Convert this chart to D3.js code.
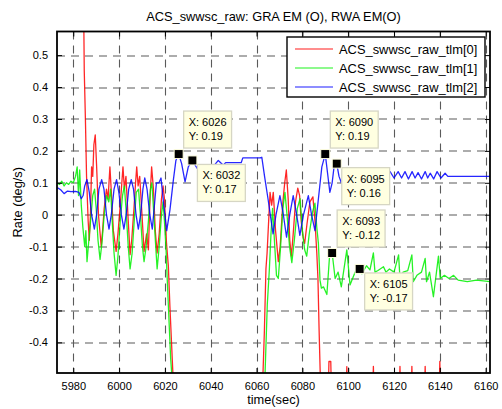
<!DOCTYPE html>
<html>
<head>
<meta charset="utf-8">
<title>ACS_swwsc_raw</title>
<script src="https://d3js.org/d3.v7.min.js"></script>
<style>
    body {
        margin: 0;
        background: #fff;
        font-family: Arial, "Liberation Sans", sans-serif;
    }
    svg text {
        font-family: Arial, "Liberation Sans", sans-serif;
        fill: #000;
    }
</style>
</head>
<body>
<div id="chart"></div>
<script>
    // Series as [time (sec), rate (deg/s)]
    const seriesNames = ['ACS_swwsc_raw_tlm[0]', 'ACS_swwsc_raw_tlm[1]', 'ACS_swwsc_raw_tlm[2]'];

    const tlm0 = [
        [5984.2, 0.9], [5984.8, 0.45], [5985.3, 0.3], [5985.8, 0.12], [5986.5, -0.02], [5987, -0.08],
        [5987.5, 0.0], [5988, 0.15], [5988.5, 0.12], [5989, 0.22], [5989.6, 0.25], [5990.2, 0.15],
        [5991, 0.0], [5992.2, -0.1], [5992.8, -0.05], [5993.5, 0.02], [5994.5, 0.08], [5995.2, 0.05],
        [5996, 0.15], [5996.7, 0.06], [5997.5, -0.05], [5998.7, -0.115], [5999.5, -0.06], [6000.5, 0.03],
        [6001.2, 0.1], [6001.7, 0.15], [6002.3, 0.08], [6003, 0.12], [6004, -0.02], [6004.8, -0.125],
        [6005.5, -0.08], [6006.5, 0.02], [6007.2, 0.1], [6007.7, 0.15], [6008.3, 0.09], [6009, 0.12],
        [6010, 0.0], [6010.9, -0.115], [6012, -0.06], [6012.8, -0.11], [6013.5, 0.05], [6014.2, 0.15],
        [6015, 0.08], [6015.8, -0.05], [6016.6, -0.12], [6017.5, -0.06], [6018.5, 0.05], [6019.2, 0.09],
        [6019.8, 0.05], [6020.7, -0.09], [6021.5, -0.16], [6022.2, -0.29], [6023.5, -0.5], [6024.5, -0.9],
        [6062.5, -0.9], [6062.8, -0.5], [6063.4, -0.37], [6064.1, -0.17], [6064.6, -0.12], [6065.9, 0.07],
        [6066.6, 0.03], [6067.3, 0.07], [6068.3, -0.05], [6069.5, -0.147], [6070.3, -0.1], [6071.5, 0.04],
        [6072.3, 0.1], [6073, 0.14], [6073.8, 0.05], [6074.5, -0.08], [6075.2, -0.13], [6076, -0.06],
        [6077, 0.04], [6078, 0.083], [6078.8, 0.06], [6079.5, -0.02], [6080.3, -0.07], [6081, -0.09],
        [6082, -0.03], [6083.3, 0.04], [6084.6, 0.056], [6085.5, -0.02], [6086.3, -0.12], [6086.8, -0.2],
        [6087.3, -0.36], [6087.8, -0.5], [6088.5, -0.6],
        [6091.2, -0.6], [6091.6, -0.46], [6092.4, -0.46], [6092.8, -0.6],
        [6099.0, -0.6], [6099.4, -0.476], [6099.8, -0.6],
        [6110.6, -0.6], [6111.0, -0.475], [6111.4, -0.6],
        [6122.2, -0.6], [6122.6, -0.475], [6123.0, -0.6],
        [6127.4, -0.6], [6127.8, -0.475], [6128.2, -0.6],
        [6133.2, -0.6], [6133.6, -0.475], [6134.0, -0.6],
        [6139.6, -0.6], [6140.0, -0.46], [6140.4, -0.6],
        [6162, -0.6]
    ];

    const tlm1 = [
        [5973, 0.10], [5974, 0.095], [5975, 0.105], [5976, 0.09], [5977, 0.1], [5978, 0.095],
        [5979, 0.105], [5980, 0.1], [5981, 0.12], [5981.7, 0.15], [5982.3, 0.06], [5982.8, 0.14],
        [5983.5, 0.03], [5984.2, -0.04], [5985, -0.1], [5985.5, -0.05], [5986, -0.147], [5986.8, -0.08],
        [5987.8, 0.0], [5988.5, 0.06], [5989.3, 0.08], [5990, 0.02], [5990.8, -0.08], [5991.7, -0.14],
        [5992.5, -0.09], [5993.5, 0.0], [5994.5, 0.06], [5995.5, 0.04], [5996.3, 0.08], [5997, -0.02],
        [5997.8, -0.12], [5998.7, -0.19], [5999.5, -0.13], [6000.5, -0.02], [6001.5, 0.06], [6002.3, 0.09],
        [6003, 0.02], [6004, -0.1], [6004.8, -0.17], [6005.7, -0.12], [6006.7, -0.01], [6007.5, 0.07],
        [6008.5, 0.08], [6009.3, 0.0], [6010.2, -0.1], [6010.9, -0.147], [6011.8, -0.1], [6012.8, -0.02],
        [6013.7, 0.08], [6014.3, 0.1], [6015, 0.02], [6016, -0.1], [6016.6, -0.17], [6017.5, -0.1],
        [6018.5, 0.0], [6019.2, 0.04], [6019.8, -0.02], [6020.5, -0.11], [6021, -0.2], [6021.6, -0.3],
        [6022.5, -0.45], [6023, -0.5], [6024, -0.9],
        [6063.3, -0.9], [6063.7, -0.5], [6064.7, -0.28], [6065.6, -0.17], [6066.3, -0.06], [6067, 0.02],
        [6067.8, -0.08], [6068.7, -0.19], [6069.5, -0.2], [6070.5, -0.1], [6071.5, 0.02], [6072.4, 0.07],
        [6073.3, 0.0], [6074.4, -0.1], [6075.4, -0.15], [6076.5, -0.08], [6077.8, 0.02], [6079, 0.05],
        [6080, -0.05], [6081, -0.11], [6081.9, -0.13], [6083, -0.06], [6084.5, 0.01], [6085.5, 0.036],
        [6086.3, -0.04], [6087, -0.09], [6087.7, -0.205], [6088.3, -0.23], [6089.2, -0.226], [6090.7, -0.25],
        [6092, -0.116], [6093, -0.12], [6094.3, -0.2], [6095.6, -0.18], [6097, -0.226], [6099.4, -0.11],
        [6100.8, -0.22], [6103, -0.18], [6105, -0.17], [6106, -0.185], [6108, -0.16], [6109.5, -0.173],
        [6111, -0.12], [6111.7, -0.18], [6113, -0.175], [6115.4, -0.163], [6116.5, -0.18], [6118, -0.17],
        [6120, -0.18], [6122, -0.126], [6122.6, -0.2], [6124, -0.18], [6126, -0.175], [6127.8, -0.126],
        [6128.4, -0.21], [6130, -0.19], [6132, -0.18], [6133.6, -0.137], [6134.2, -0.21], [6135.5, -0.18],
        [6137.2, -0.257], [6139.4, -0.13], [6140.2, -0.2], [6142, -0.19], [6144, -0.2], [6146, -0.19],
        [6148, -0.205], [6152, -0.21], [6156, -0.205], [6162, -0.21]
    ];

    const tlm2 = [
        [5973, 0.085], [5974.5, 0.078], [5976, 0.066], [5977.5, 0.074], [5979, 0.072], [5981, 0.073],
        [5982.5, 0.07], [5983.5, 0.05], [5984.3, 0.06], [5985, 0.09], [5986, 0.11], [5987, 0.07],
        [5988, 0.0], [5989.2, -0.045], [5990.2, 0.0], [5991.2, 0.08], [5992.4, 0.11], [5993.4, 0.08],
        [5994.5, 0.0], [5995.6, -0.045], [5996.6, 0.0], [5997.8, 0.08], [5998.9, 0.11], [5999.9, 0.07],
        [6001, 0.0], [6002.1, -0.045], [6003.1, 0.0], [6004.2, 0.08], [6005.3, 0.11], [6006.3, 0.08],
        [6007.4, 0.0], [6008.4, -0.045], [6009.4, 0.0], [6010.4, 0.08], [6011.2, 0.115], [6012.2, 0.08],
        [6013.4, 0.0], [6014.5, -0.045], [6015.5, 0.036], [6016.3, 0.1], [6017.4, 0.1], [6018.3, 0.115],
        [6019.5, 0.03], [6020.8, -0.05], [6022.2, 0.015], [6023.7, 0.109], [6024.8, 0.17], [6026, 0.19],
        [6027.3, 0.16], [6028.8, 0.103], [6030.2, 0.15], [6032, 0.17], [6033.2, 0.155], [6034.6, 0.14],
        [6036.8, 0.155], [6039, 0.145], [6041, 0.15], [6043.3, 0.17], [6045.5, 0.155], [6046.5, 0.163],
        [6053.3, 0.163], [6054, 0.178], [6061.5, 0.178], [6062.3, 0.18], [6063.5, 0.12], [6065, 0.05],
        [6066, 0.0], [6067.2, -0.06], [6068.5, 0.0], [6070.2, 0.06], [6071.5, 0.01], [6073.1, -0.07],
        [6074.5, 0.0], [6076, 0.06], [6077.5, 0.0], [6078.9, -0.065], [6080.5, 0.0], [6082.6, 0.06],
        [6084, 0.0], [6085.5, -0.05], [6087, 0.05], [6088.5, 0.15], [6090, 0.19], [6091, 0.13],
        [6092, 0.07], [6093, 0.1], [6094, 0.16], [6094.6, 0.17], [6095, 0.16], [6096, 0.12],
        [6097, 0.1], [6098, 0.12], [6099.5, 0.135], [6101, 0.115], [6102.5, 0.13], [6104, 0.115],
        [6105.5, 0.13], [6107, 0.115], [6108.5, 0.13], [6110, 0.12], [6111.5, 0.135], [6113, 0.115],
        [6114.5, 0.13], [6116, 0.115], [6118.3, 0.135], [6120, 0.115], [6121.8, 0.135], [6123.3, 0.115],
        [6124.8, 0.135], [6126.3, 0.112], [6127.9, 0.135], [6129.2, 0.115], [6130.5, 0.132], [6132, 0.112],
        [6133.6, 0.135], [6134.7, 0.115], [6135.8, 0.13], [6137.3, 0.112], [6138.8, 0.135], [6140.5, 0.115],
        [6142.3, 0.13], [6143.5, 0.12], [6162, 0.12]
    ];

    const seriesColors = ['#ff0000', '#00f000', '#0000ff'];

    const xTicks = [5980, 6000, 6020, 6040, 6060, 6080, 6100, 6120, 6140, 6160];
    const yTicks = [-0.4, -0.3, -0.2, -0.1, 0, 0.1, 0.2, 0.3, 0.4, 0.5];

    // data cursors: series value at a time, box shown above or below the marker
    const dataTips = [
        {t: 6026, v: 0.19, place: 'above'},
        {t: 6032, v: 0.17, place: 'below'},
        {t: 6090, v: 0.19, place: 'above'},
        {t: 6095, v: 0.16, place: 'below'},
        {t: 6093, v: -0.12, place: 'above'},
        {t: 6105, v: -0.17, place: 'below'}
    ];

    const titleText = 'ACS_swwsc_raw: GRA EM (O), RWA EM(O)';
    const xLabel = 'time(sec)';
    const yLabel = 'Rate (deg/s)';

    // layout
    const width = 502, height = 409;
    const margin = {top: 31.5, right: 12, bottom: 36, left: 57};
    const plotW = width - margin.left - margin.right;
    const plotH = height - margin.top - margin.bottom;

    const svg = d3.select('#chart').append('svg')
        .attr('width', width)
        .attr('height', height);

    const x = d3.scaleLinear().domain([5972.9, 6161.9]).range([0, plotW]);
    const y = d3.scaleLinear().domain([-0.496, 0.574]).range([plotH, 0]);

    svg.append('defs').append('clipPath').attr('id', 'plot-clip')
        .append('rect').attr('width', plotW).attr('height', plotH);

    const g = svg.append('g').attr('transform', `translate(${margin.left},${margin.top})`);

    // grid
    const grid = g.append('g').attr('class', 'grid')
        .attr('stroke', '#5a5a5a').attr('stroke-width', 1.1).attr('stroke-dasharray', '8,6');
    grid.selectAll('.gx').data(xTicks).enter().append('line')
        .attr('x1', d => Math.round(x(d)) + 0.5).attr('x2', d => Math.round(x(d)) + 0.5)
        .attr('y1', 0).attr('y2', plotH);
    grid.selectAll('.gy').data(yTicks).enter().append('line')
        .attr('y1', d => Math.round(y(d)) + 0.5).attr('y2', d => Math.round(y(d)) + 0.5)
        .attr('x1', 0).attr('x2', plotW);

    // lines
    const line = d3.line().x(d => x(d[0])).y(d => y(d[1]));
    g.append('g').attr('clip-path', 'url(#plot-clip)')
        .selectAll('path')
        .data([tlm0, tlm1, tlm2])
        .enter().append('path')
        .attr('d', line)
        .attr('fill', 'none')
        .attr('stroke', (d, i) => seriesColors[i])
        .attr('stroke-width', 1.3)
        .attr('stroke-opacity', 0.85)
        .attr('stroke-linejoin', 'round');

    // axes box with inward ticks on all four sides
    const tickLen = 5;
    const axisFont = 11;
    const xAxisB = d3.axisBottom(x).tickValues(xTicks).tickSizeInner(-tickLen).tickSizeOuter(0)
        .tickPadding(9).tickFormat(d3.format('d'));
    const xAxisT = d3.axisTop(x).tickValues(xTicks).tickSizeInner(-tickLen).tickSizeOuter(0).tickFormat('');
    const yFmt = d => d === 0 ? '0' : d.toFixed(1);
    const yAxisL = d3.axisLeft(y).tickValues(yTicks).tickSizeInner(-tickLen).tickSizeOuter(0)
        .tickPadding(9).tickFormat(yFmt);
    const yAxisR = d3.axisRight(y).tickValues(yTicks).tickSizeInner(-tickLen).tickSizeOuter(0).tickFormat('');

    function styleAxis(sel) {
        sel.select('.domain').remove();
        sel.selectAll('.tick line').attr('stroke', '#000').attr('stroke-width', 1);
        sel.selectAll('.tick text').attr('font-size', axisFont)
            .attr('font-family', 'Arial, "Liberation Sans", sans-serif').attr('fill', '#000');
    }
    g.append('g').attr('transform', `translate(0,${plotH})`).call(xAxisB).call(styleAxis);
    g.append('g').call(xAxisT).call(styleAxis);
    g.append('g').call(yAxisL).call(styleAxis);
    g.append('g').attr('transform', `translate(${plotW},0)`).call(yAxisR).call(styleAxis);

    g.append('rect')
        .attr('x', 0).attr('y', 0).attr('width', plotW).attr('height', plotH)
        .attr('fill', 'none').attr('stroke', '#000').attr('stroke-width', 1.8);

    // titles
    svg.append('text')
        .attr('x', margin.left + plotW / 2).attr('y', 20.5)
        .attr('text-anchor', 'middle').attr('font-size', 12.8)
        .text(titleText);
    svg.append('text')
        .attr('x', margin.left + plotW / 2).attr('y', 404)
        .attr('text-anchor', 'middle').attr('font-size', 12.8)
        .text(xLabel);
    svg.append('text')
        .attr('transform', `translate(22,${margin.top + plotH / 2}) rotate(-90)`)
        .attr('text-anchor', 'middle').attr('font-size', 12.8)
        .text(yLabel);

    // legend
    const legW = 198, legH = 60, legRowH = 19;
    const legX = plotW - 5 - legW, legY = 5.5;
    const legend = g.append('g').attr('transform', `translate(${legX},${legY})`);
    legend.append('rect')
        .attr('width', legW).attr('height', legH)
        .attr('fill', '#fff').attr('stroke', '#000').attr('stroke-width', 1.4);
    const rows = legend.selectAll('.row').data(seriesNames).enter().append('g')
        .attr('transform', (d, i) => `translate(0,${12 + i * legRowH})`);
    rows.append('line')
        .attr('x1', 8).attr('x2', 46).attr('y1', 0).attr('y2', 0)
        .attr('stroke', (d, i) => seriesColors[i]).attr('stroke-opacity', 0.6).attr('stroke-width', 1.3);
    rows.append('text')
        .attr('x', 52).attr('y', 4.5).attr('font-size', 12.9)
        .text(d => d);

    // data tips
    const tipH = 37;
    const tips = g.append('g');
    dataTips.forEach(tp => {
        const mx = x(tp.t), my = y(tp.v);
        const tg = tips.append('g');
        const box = tg.append('rect')
            .attr('fill', '#ffffe1').attr('stroke', '#d6d6c4').attr('stroke-width', 1.3);
        const label = tg.append('g');
        label.append('text').attr('x', 5).attr('y', 15).attr('font-size', 11).text(`X: ${tp.t}`);
        label.append('text').attr('x', 5).attr('y', 29).attr('font-size', 11).text(`Y: ${tp.v.toFixed(2)}`);
        const tw = d3.max(label.selectAll('text').nodes(), n => n.getComputedTextLength()) + 10;
        const bx = mx + 5;
        const by = tp.place === 'above' ? my - 6 - tipH : my + 4;
        box.attr('width', tw).attr('height', tipH);
        tg.attr('transform', `translate(${bx},${by})`);
        tips.append('rect')
            .attr('x', mx - 4.5).attr('y', my - 4.5).attr('width', 9).attr('height', 9)
            .attr('fill', '#000').attr('stroke', '#ffffe1').attr('stroke-width', 1);
    });
</script>
</body>
</html>
